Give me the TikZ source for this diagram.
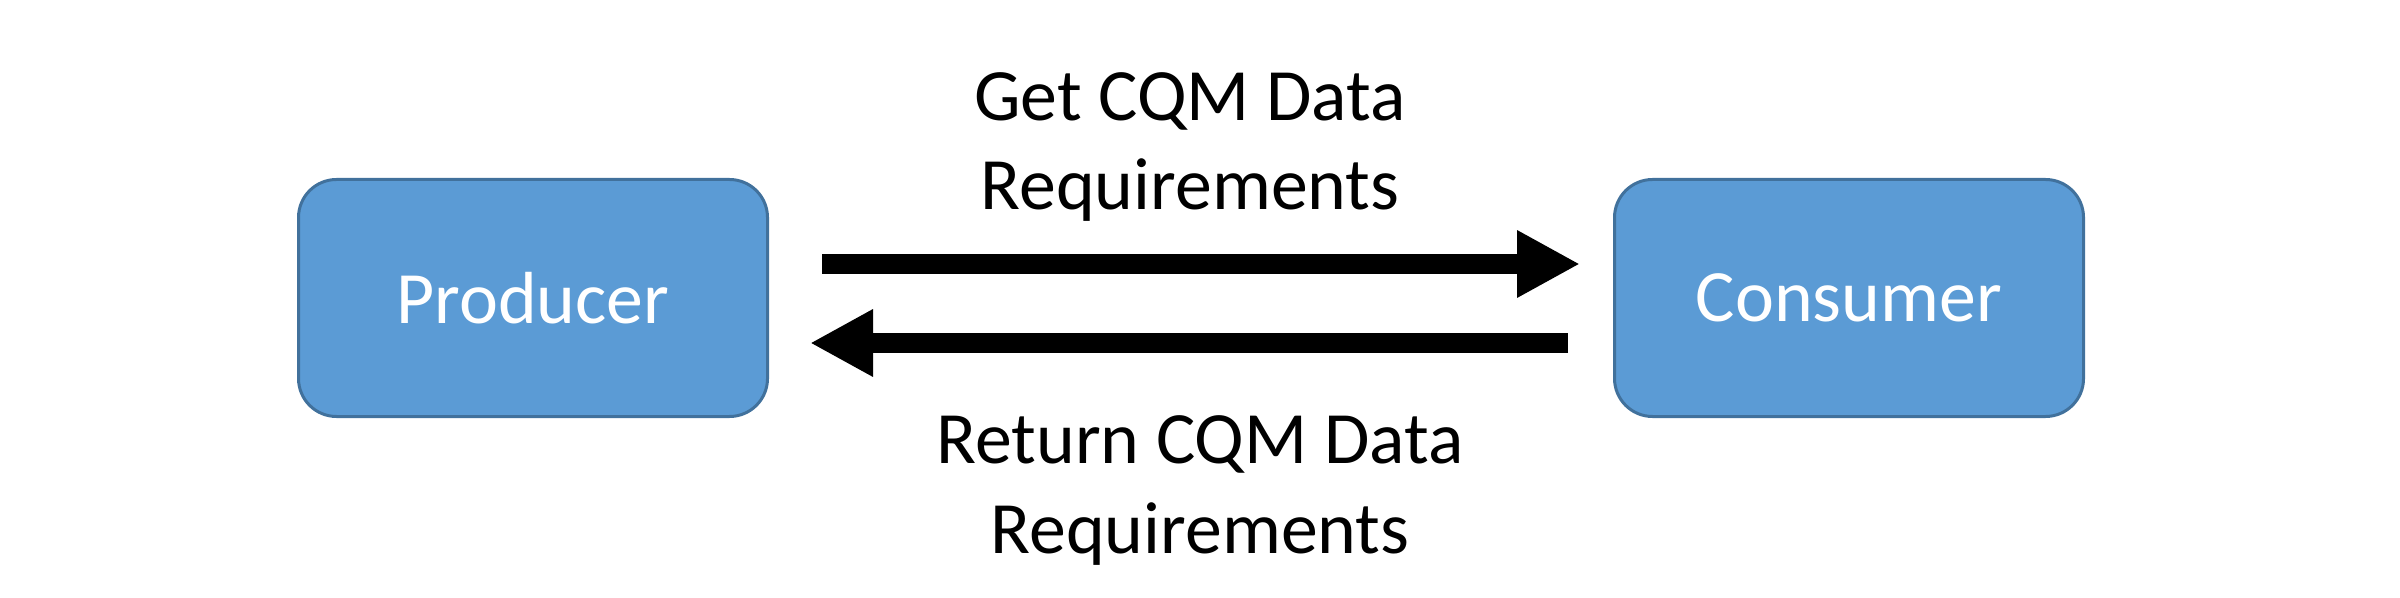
\documentclass[tikz,border=0pt]{standalone}
\usepackage{fontspec}
\setmainfont{Carlito}
\usetikzlibrary{arrows.meta}
\definecolor{boxfill}{HTML}{5B9BD5}
\definecolor{boxedge}{HTML}{41719C}
\tikzset{
  rolebox/.style={draw=boxedge, line width=0.03cm, fill=boxfill, rounded corners=0.38cm,
    minimum width=4.69cm, minimum height=2.37cm, inner sep=0pt, text=white,
    font=\fontsize{21}{25.6}\selectfont},
  msglabel/.style={align=center, inner sep=0pt, font=\fontsize{21}{25.6}\selectfont},
  bigarrow/.style={line width=0.2cm, -{Triangle[length=0.63cm, width=0.63cm]}}
}
\begin{document}
\begin{tikzpicture}
\useasboundingbox (0,0) rectangle (24,-5.98);
\node[rolebox] (prod) at (5.33,-2.98) {Producer};
\node[rolebox] (cons) at (18.49,-2.98) {Consumer};
\draw[bigarrow] ([xshift=0.53cm,yshift=0.34cm]prod.east) -- ([xshift=-0.33cm,yshift=0.34cm]cons.west);
\draw[bigarrow] ([xshift=-0.45cm,yshift=-0.45cm]cons.west) -- ([xshift=0.41cm,yshift=-0.45cm]prod.east);
\node[msglabel, anchor=base] (getlbl) at (11.90,-2.10) {Get CQM Data\\Requirements};
\node[msglabel, anchor=base] (retlbl) at (12.00,-5.53) {Return CQM Data\\Requirements};
\end{tikzpicture}
\end{document}
